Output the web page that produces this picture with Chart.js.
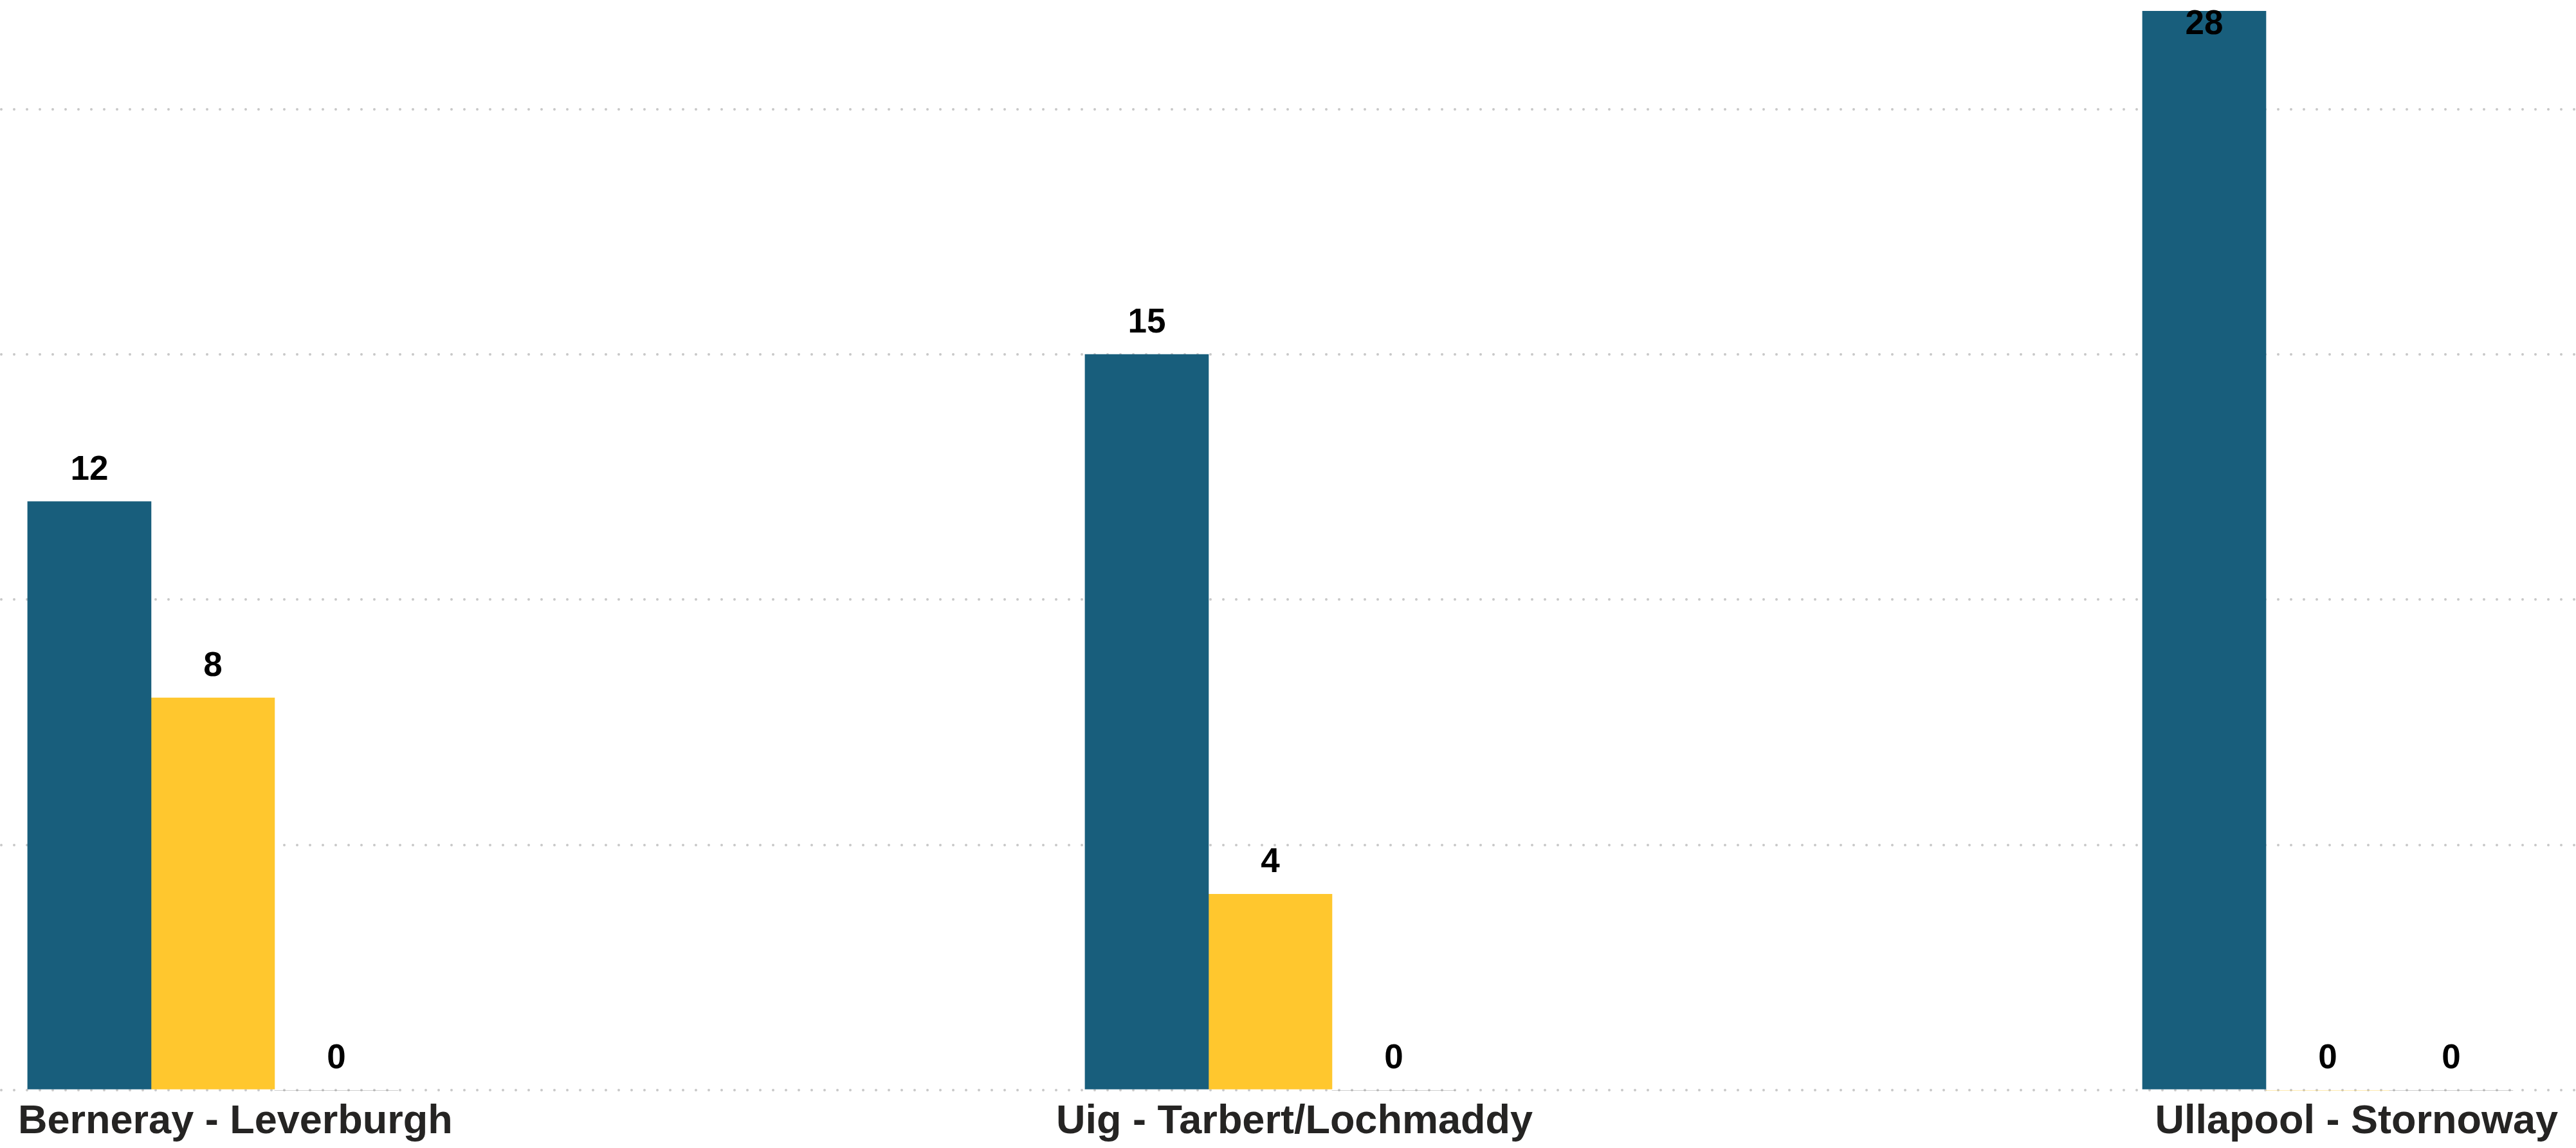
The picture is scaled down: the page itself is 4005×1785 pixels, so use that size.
<!DOCTYPE html>
<html>
<head>
<meta charset="utf-8">
<script src="https://cdn.jsdelivr.net/npm/chart.js@4.4.0/dist/chart.umd.min.js"></script>
<style>
  html, body { margin: 0; padding: 0; background: #ffffff; }
  canvas { display: block; }
</style>
</head>
<body>
<canvas id="routeChart" width="4005" height="1785"></canvas>
<script>
// data
const routes = ['Berneray - Leverburgh', 'Uig - Tarbert/Lochmaddy', 'Ullapool - Stornoway'];
const routeIndex = [0, 1, 2];
const series1 = [12, 15, 28];
const series2 = [8, 4, 0];
const series3 = [0, 0, 0];
const gridSteps = [0, 5, 10, 15, 20];

const labelFont = { family: '"Liberation Sans", Arial, sans-serif', size: 63, weight: 'bold' };

const toPoints = values => values.map((v, i) => ({ x: routeIndex[i], y: v }));

// numbers above the bars; a bar running off the top gets its label inside
const valueLabels = {
  id: 'valueLabels',
  afterDatasetsDraw(chart) {
    const { ctx, chartArea } = chart;
    ctx.save();
    ctx.font = 'bold 53px "Liberation Sans", Arial, sans-serif';
    ctx.fillStyle = '#000000';
    ctx.textAlign = 'center';
    ctx.textBaseline = 'alphabetic';
    chart.data.datasets.forEach((ds, di) => {
      chart.getDatasetMeta(di).data.forEach((bar, i) => {
        let y = bar.y - 34;
        if (y - 40 < chartArea.top) y = Math.max(bar.y, chartArea.top) + 36;
        ctx.fillText(String(ds.data[i].y), bar.x, y);
      });
    });
    ctx.restore();
  }
};

// round caps so the dashed grid comes out as dots
const roundDots = {
  id: 'roundDots',
  beforeDraw(chart) { chart.ctx.lineCap = 'round'; }
};

const ctx = document.getElementById('routeChart').getContext('2d');

new Chart(ctx, {
  type: 'bar',
  data: {
    datasets: [
      { label: 'Series 1', data: toPoints(series1), backgroundColor: '#185E7C' },
      { label: 'Series 2', data: toPoints(series2), backgroundColor: '#FFC72E' },
      { label: 'Series 3', data: toPoints(series3), backgroundColor: '#7F7F7F' }
    ]
  },
  options: {
    responsive: false,
    animation: false,
    layout: { padding: { top: 17, left: 0, right: 0, bottom: 0 } },
    datasets: {
      bar: { barThickness: 192, borderWidth: 0 }
    },
    scales: {
      x: {
        type: 'linear',
        min: -0.2013,
        max: 2.2348,
        offset: false,
        grid: { display: false },
        border: { display: false },
        afterBuildTicks: scale => {
          // first label flush left, last flush right, middle one centred
          const c = scale.chart.ctx;
          c.save();
          c.font = `bold ${labelFont.size}px ${labelFont.family}`;
          const w = routes.map(r => c.measureText(r).width);
          c.restore();
          const perPx = (scale.max - scale.min) / scale.chart.width;
          const edge = 28;
          scale.ticks = [
            { value: scale.min + (edge + w[0] / 2) * perPx },
            { value: (scale.min + scale.max) / 2 + 10 * perPx },
            { value: scale.max - (edge + w[2] / 2) * perPx }
          ];
        },
        ticks: {
          autoSkip: false,
          maxRotation: 0,
          minRotation: 0,
          padding: 3,
          color: '#252423',
          font: labelFont,
          callback: (value, index) => routes[index]
        }
      },
      y: {
        min: 0,
        max: 22,
        afterBuildTicks: scale => {
          scale.ticks = gridSteps.map(v => ({ value: v }));
        },
        ticks: { display: false },
        grid: { color: '#c8c8c8', lineWidth: 4, drawTicks: false },
        border: { display: false, dash: [0, 20], dashOffset: -2 }
      }
    },
    plugins: {
      legend: { display: false },
      tooltip: { enabled: false }
    }
  },
  plugins: [roundDots, valueLabels]
});
</script>
</body>
</html>
